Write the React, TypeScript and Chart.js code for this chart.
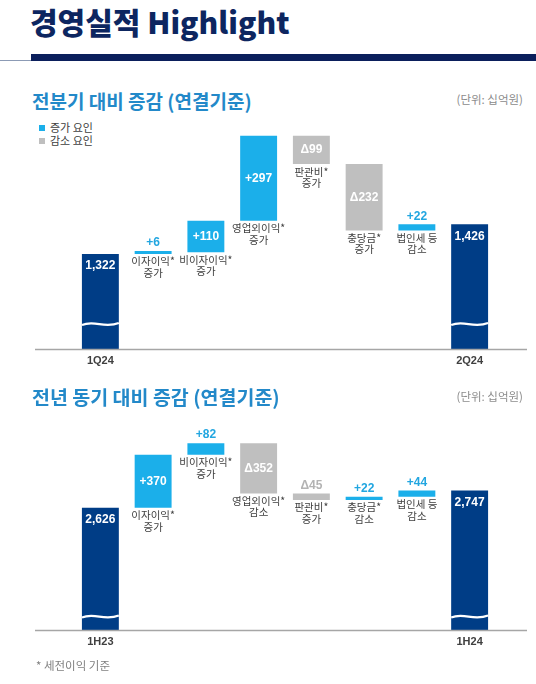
import React, { useEffect, useRef } from 'react';
import { Chart, registerables } from 'chart.js';

Chart.register(...registerables);

// ---------------- Data ----------------
const qoqCategories = ['1Q24', '이자이익*\n증가', '비이자이익*\n증가', '영업외이익*\n증가', '판관비*\n증가', '충당금*\n증가', '법인세 등\n감소', '2Q24'];
const qoqValues = [1322, 6, 110, 297, -99, -232, 22, 1426];
const qoqValueLabels = ['1,322', '+6', '+110', '+297', 'Δ99', 'Δ232', '+22', '1,426'];
const qoqAxisRange = [990, 1790];

const yoyCategories = ['1H23', '이자이익*\n증가', '비이자이익*\n증가', '영업외이익*\n감소', '판관비*\n증가', '충당금*\n감소', '법인세 등\n감소', '1H24'];
const yoyValues = [2626, 370, 82, -352, -45, 22, 44, 2747];
const yoyValueLabels = ['2,626', '+370', '+82', 'Δ352', 'Δ45', '+22', '+44', '2,747'];
const yoyAxisRange = [1771, 3170];

const legendLabels = ['증가 요인', '감소 요인'];

// ---------------- Styles ----------------
const NUM_FONT = "'Liberation Sans', Arial, 'Noto Sans CJK KR', sans-serif";
const KR_FONT = "'Noto Sans CJK KR', sans-serif";
const COLOR_TOTAL = '#003D86';
const COLOR_INC = '#1BAFEA';
const COLOR_DEC = '#BFBFBF';
const COLOR_INC_TEXT = '#22A6E0';
const COLOR_DEC_TEXT = '#B3B3B3';
const TEXT_DARK = '#404040';

type Kind = 'total' | 'inc' | 'dec';

function kindsOf(values: number[]): Kind[] {
  return values.map((v, i) => (i === 0 || i === values.length - 1 ? 'total' : v >= 0 ? 'inc' : 'dec'));
}

function buildWaterfall(values: number[], axisMin: number): [number, number][] {
  let cum = 0;
  return values.map((v, i) => {
    if (i === 0 || i === values.length - 1) {
      cum = v;
      return [axisMin, v];
    }
    const start = cum;
    cum += v;
    return [start, cum];
  });
}

const waterfallPlugin = {
  id: 'waterfall',
  afterDatasetsDraw(chart: any, _args: any, opts: any) {
    const ctx = chart.ctx as CanvasRenderingContext2D;
    const area = chart.chartArea;
    const meta = chart.getDatasetMeta(0);
    const kinds: Kind[] = opts.kinds;
    const labels: string[] = opts.valueLabels;
    const cats: string[] = opts.categories;
    ctx.save();
    // baseline
    ctx.strokeStyle = '#A6A6A6';
    ctx.lineWidth = 1.5;
    ctx.beginPath();
    ctx.moveTo(opts.lineLeft, area.bottom + 0.5);
    ctx.lineTo(opts.lineRight, area.bottom + 0.5);
    ctx.stroke();

    meta.data.forEach((bar: any, i: number) => {
      const top = Math.min(bar.y, bar.base);
      const bottom = Math.max(bar.y, bar.base);
      const h = bottom - top;
      const kind = kinds[i];
      const half = bar.width / 2;
      ctx.textAlign = 'center';
      ctx.textBaseline = 'middle';
      ctx.font = `bold 12px ${NUM_FONT}`;
      if (kind === 'total') {
        // break wave
        const cy = area.bottom - opts.waveOffset;
        const L = bar.x - half;
        const R = bar.x + half;
        const w = R - L;
        ctx.strokeStyle = '#FFFFFF';
        ctx.lineWidth = 2.2;
        ctx.beginPath();
        ctx.moveTo(L, cy + 1);
        ctx.bezierCurveTo(L + 0.35 * w, cy - 4.5, L + 0.6 * w, cy + 5, R, cy - 1);
        ctx.stroke();
        ctx.fillStyle = '#FFFFFF';
        ctx.fillText(labels[i], bar.x, top + 12);
      } else {
        if (h >= 20) {
          ctx.fillStyle = '#FFFFFF';
          ctx.fillText(labels[i], bar.x, (top + bottom) / 2);
        } else {
          ctx.fillStyle = kind === 'inc' ? COLOR_INC_TEXT : COLOR_DEC_TEXT;
          ctx.fillText(labels[i], bar.x, top - 8);
        }
        ctx.font = `10.5px ${KR_FONT}`;
        ctx.fillStyle = TEXT_DARK;
        cats[i].split('\n').forEach((line, j) => {
          ctx.fillText(line, bar.x, bottom + 7.5 + j * 11.5);
        });
      }
    });
    ctx.restore();
  },
};

function WaterfallChart(props: {
  categories: string[];
  values: number[];
  valueLabels: string[];
  axisRange: number[];
  waveOffset: number;
}) {
  const ref = useRef<HTMLCanvasElement | null>(null);
  useEffect(() => {
    if (!ref.current) return;
    const { categories, values, valueLabels, axisRange, waveOffset } = props;
    const kinds = kindsOf(values);
    const data = buildWaterfall(values, axisRange[0]);
    const colors = kinds.map((k) => (k === 'total' ? COLOR_TOTAL : k === 'inc' ? COLOR_INC : COLOR_DEC));
    const chart = new Chart(ref.current, {
      type: 'bar',
      data: {
        labels: categories,
        datasets: [
          {
            data: data as any,
            backgroundColor: colors,
            borderWidth: 0,
            barPercentage: 0.7,
            categoryPercentage: 1,
            minBarLength: 3,
          },
        ],
      },
      options: {
        animation: false,
        responsive: true,
        maintainAspectRatio: false,
        layout: { padding: { top: 10, bottom: 11, left: 74, right: 40 } },
        plugins: {
          legend: { display: false },
          tooltip: { enabled: false },
          waterfall: {
            kinds,
            valueLabels,
            categories,
            waveOffset,
            lineLeft: 35,
            lineRight: 527,
          },
        } as any,
        scales: {
          x: {
            grid: { display: false, drawTicks: false },
            border: { display: false },
            ticks: {
              autoSkip: false,
              maxRotation: 0,
              padding: 5,
              color: TEXT_DARK,
              font: { family: NUM_FONT, size: 11, weight: 'bold' },
              callback: (_v: any, i: number) => (kinds[i] === 'total' ? categories[i] : ''),
            },
            afterFit: (axis: any) => {
              axis.height = 20;
            },
          },
          y: { display: false, min: axisRange[0], max: axisRange[1] },
        },
      },
      plugins: [waterfallPlugin],
    });
    return () => chart.destroy();
  }, []);
  return <canvas ref={ref} />;
}

function Text(props: { x: number; cy: number; size: number; color: string; weight?: number; align?: 'left' | 'right'; children: any }) {
  const h = props.size * 2;
  const style: any = {
    position: 'absolute',
    top: props.cy - h / 2,
    height: h,
    display: 'flex',
    alignItems: 'center',
    fontFamily: KR_FONT,
    fontSize: props.size,
    fontWeight: props.weight || 400,
    color: props.color,
    lineHeight: 1,
    whiteSpace: 'nowrap',
  };
  if (props.align === 'right') style.right = 536 - props.x;
  else style.left = props.x;
  return <div style={style}>{props.children}</div>;
}

export default function App() {
  return (
    <div style={{ position: 'fixed', left: 0, top: 0, width: 536, height: 684, background: '#FFFFFF', overflow: 'hidden' }}>
      <Text x={30} cy={21} size={30} color="#0D2660" weight={900}>
        경영실적 Highlight
      </Text>
      <div style={{ position: 'absolute', left: 0, top: 60, width: 536, height: 1, background: '#8C9BB5' }} />
      <div style={{ position: 'absolute', left: 31, top: 54, width: 505, height: 6.5, background: '#0B1F5C' }} />

      <Text x={32} cy={100} size={19} color="#2389C9" weight={700}>
        전분기 대비 증감 (연결기준)
      </Text>
      <Text x={523} cy={100} size={11.5} color="#8C8C8C" align="right">
        (단위: 십억원)
      </Text>
      <div style={{ position: 'absolute', left: 39, top: 124.5, width: 6, height: 6, background: COLOR_INC }} />
      <div style={{ position: 'absolute', left: 39, top: 137.5, width: 6, height: 6, background: COLOR_DEC }} />
      <Text x={50} cy={127.5} size={11} color={TEXT_DARK}>
        {legendLabels[0]}
      </Text>
      <Text x={50} cy={140.5} size={11} color={TEXT_DARK}>
        {legendLabels[1]}
      </Text>

      <div style={{ position: 'absolute', left: 0, top: 110, width: 536, height: 270 }}>
        <WaterfallChart
          categories={qoqCategories}
          values={qoqValues}
          valueLabels={qoqValueLabels}
          axisRange={qoqAxisRange}
          waveOffset={25}
        />
      </div>

      <Text x={32} cy={397} size={19.5} color="#2389C9" weight={700}>
        전년 동기 대비 증감 (연결기준)
      </Text>
      <Text x={523} cy={397} size={11.5} color="#8C8C8C" align="right">
        (단위: 십억원)
      </Text>

      <div style={{ position: 'absolute', left: 0, top: 420, width: 536, height: 241 }}>
        <WaterfallChart
          categories={yoyCategories}
          values={yoyValues}
          valueLabels={yoyValueLabels}
          axisRange={yoyAxisRange}
          waveOffset={13.5}
        />
      </div>

      <Text x={36} cy={666} size={11.5} color="#808080">
        * 세전이익 기준
      </Text>
    </div>
  );
}
